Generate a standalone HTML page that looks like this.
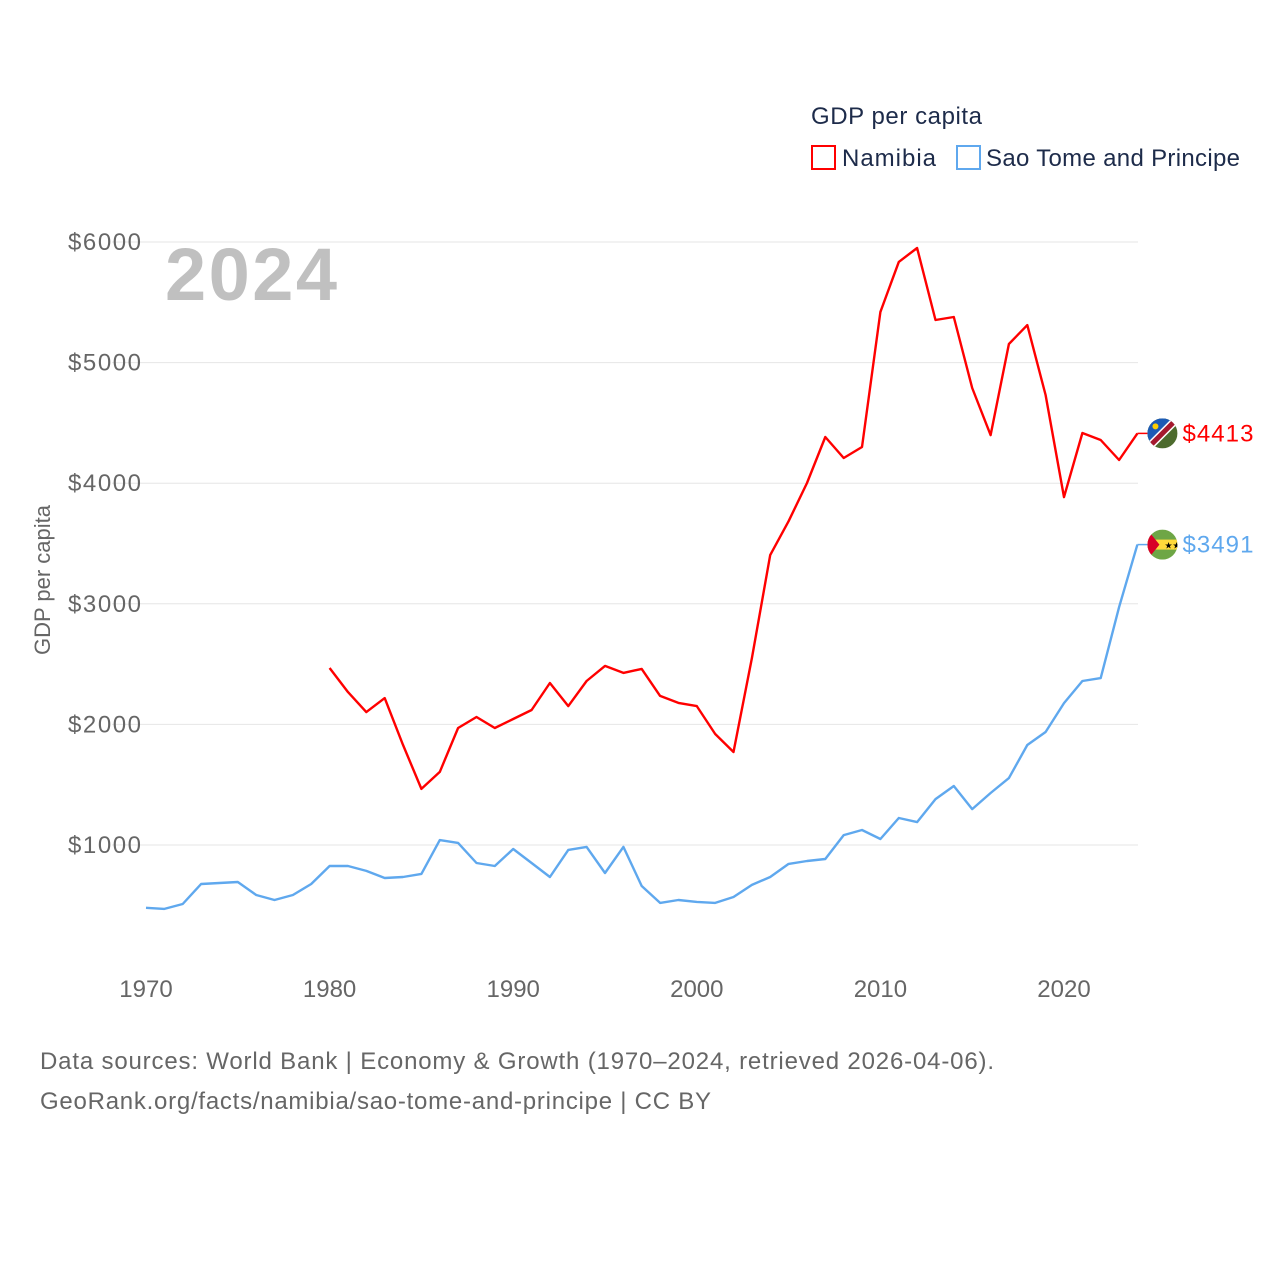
<!DOCTYPE html>
<html><head><meta charset="utf-8"><style>
body{margin:0;background:#fff;width:1280px;height:1280px;overflow:hidden;font-family:"Liberation Sans",sans-serif}
svg{display:block}
</style></head><body>
<svg id="chart" width="1280" height="1280">
<text x="811" y="124" font-size="24" fill="#1d2b4a" textLength="171">GDP per capita</text>
<rect x="812" y="146" width="23" height="23" fill="none" stroke="#ff0000" stroke-width="2"/>
<text x="842" y="166" font-size="24" fill="#1d2b4a" textLength="94">Namibia</text>
<rect x="957" y="146" width="23" height="23" fill="none" stroke="#5fa8ee" stroke-width="2"/>
<text x="986" y="166" font-size="24" fill="#1d2b4a" textLength="254">Sao Tome and Principe</text>
<text x="165" y="300" font-size="74" font-weight="bold" fill="#c0c0c0" textLength="172">2024</text>
<text transform="translate(50,580) rotate(-90)" text-anchor="middle" font-size="22" fill="#666">GDP per capita</text>
<g id="grid"></g><g id="series"></g>
<text x="40" y="1069" font-size="24" fill="#666" textLength="954">Data sources: World Bank | Economy &amp; Growth (1970–2024, retrieved 2026-04-06).</text>
<text x="40" y="1109" font-size="24" fill="#666" textLength="671">GeoRank.org/facts/namibia/sao-tome-and-principe | CC BY</text>
</svg>
<script>
const years=[];for(let y=1970;y<=2024;y++)years.push(y);
const namibia=[null,null,null,null,null,null,null,null,null,null,2468,2268,2102,2218,1830,1465,1606,1970,2061,1970,2045,2119,2343,2152,2360,2485,2427,2460,2236,2178,2152,1920,1771,2550,3404,3685,4002,4383,4209,4300,5420,5835,5950,5353,5378,4789,4399,5154,5311,4731,3885,4416,4358,4192,4413];
const saoTome=[479,470,511,677,685,693,585,544,585,677,826,826,785,726,735,760,1041,1017,851,826,967,851,735,959,984,768,984,660,520,544,528,520,569,669,735,843,867,884,1082,1124,1050,1224,1190,1381,1489,1298,1431,1555,1829,1937,2177,2360,2384,2973,3491];
const yTicks=[1000,2000,3000,4000,5000,6000];
const xTicks=[1970,1980,1990,2000,2010,2020];
const X=y=>146+(y-1970)*18.36, Y=v=>965.6-v*0.1206;
const NS="http://www.w3.org/2000/svg";
const svg=document.getElementById('chart'),grid=document.getElementById('grid'),ser=document.getElementById('series');
function mk(tag,attrs,parent){const e=document.createElementNS(NS,tag);for(const k in attrs)e.setAttribute(k,attrs[k]);parent.appendChild(e);return e;}
yTicks.forEach(v=>{
 const l=mk('line',{x1:112,x2:1138,y1:Y(v),y2:Y(v),stroke:'#e6e6e6','stroke-width':1},grid);
 
 
 const t=mk('text',{x:141,y:Y(v)+8,'text-anchor':'end','font-size':24,fill:'#666',textLength:73},grid);t.textContent='$'+v;
 
 
});
xTicks.forEach(v=>{
 const t=mk('text',{x:X(v),y:997,'text-anchor':'middle','font-size':24,fill:'#666'},grid);t.textContent=v;
 
 
});
function line(data,color,name){
 let d='';data.forEach((v,i)=>{if(v==null)return;d+=(d?'L':'M')+X(years[i]).toFixed(1)+','+Y(v).toFixed(1);});
 const p=mk('path',{d:d,fill:'none',stroke:color,'stroke-width':2.4,'stroke-linejoin':'round'},ser);
 
 
}
line(saoTome,'#5fa8ee','line-sao-tome');
line(namibia,'#ff0000','line-namibia');
function endLabel(v,color,name,flag){
 const y=Y(v),x=X(2024);
 mk('line',{x1:x,x2:x+10,y1:y,y2:y,stroke:color,'stroke-width':1.5},ser);
 const g=mk('g',{},ser);
 
 
 flag(g,x+25,y);
 const t=mk('text',{x:x+45,y:y+8,'font-size':24,fill:color,textLength:71},ser);t.textContent='$'+v;
 
 
}
endLabel(namibia[namibia.length-1],'#ff0000','namibia',(g,cx,cy)=>{
 mk('clipPath',{id:'cn'},g).appendChild(document.createElementNS(NS,'circle'));
 const c=g.querySelector('#cn circle');c.setAttribute('cx',cx);c.setAttribute('cy',cy);c.setAttribute('r',15);
 const h=mk('g',{'clip-path':'url(#cn)'},g);
 mk('rect',{x:cx-15,y:cy-15,width:30,height:30,fill:'#4d6b2e'},h);
 mk('polygon',{points:`${cx-15},${cy-15} ${cx+15},${cy-15} ${cx-15},${cy+15}`,fill:'#1c5bb5'},h);
 mk('line',{x1:cx-15,y1:cy+15,x2:cx+15,y2:cy-15,stroke:'#fff','stroke-width':8},h);
 mk('line',{x1:cx-15,y1:cy+15,x2:cx+15,y2:cy-15,stroke:'#a5192e','stroke-width':5},h);
 mk('circle',{cx:cx-7,cy:cy-7,r:3,fill:'#ffce00'},h);
});
endLabel(saoTome[saoTome.length-1],'#5fa8ee','sao-tome',(g,cx,cy)=>{
 mk('clipPath',{id:'cs'},g).appendChild(document.createElementNS(NS,'circle'));
 const c=g.querySelector('#cs circle');c.setAttribute('cx',cx);c.setAttribute('cy',cy);c.setAttribute('r',15);
 const h=mk('g',{'clip-path':'url(#cs)'},g);
 mk('rect',{x:cx-15,y:cy-15,width:30,height:30,fill:'#6ea646'},h);
 mk('rect',{x:cx-15,y:cy-5,width:30,height:10,fill:'#ffd93b'},h);
 mk('polygon',{points:`${cx-15},${cy-15} ${cx-3},${cy} ${cx-15},${cy+15}`,fill:'#d80027'},h);
 const s=mk('text',{x:cx+2,y:cy+4,'font-size':9,fill:'#000'},h);s.textContent='★★';
});
</script>
</body></html>
